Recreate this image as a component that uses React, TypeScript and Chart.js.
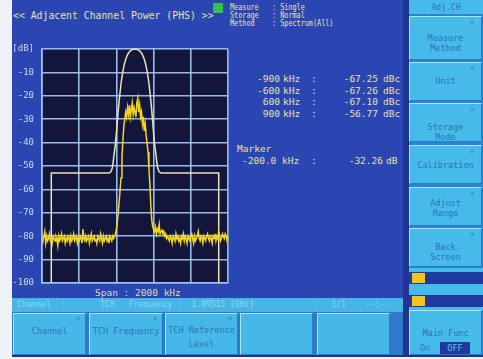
import React, { useEffect, useRef } from "react";
import { Chart, registerables } from "chart.js";
Chart.register(...registerables);

// ---------- data ----------
const FREQ_START_KHZ = -1000;
const FREQ_STEP_KHZ = 10;
// measured spectrum (dB), one value per 10 kHz from -1000 kHz to +1000 kHz
const SPECTRUM_DB = [
  -81, -82, -80, -78, -83, -80, -82, -81, -79, -82, -81, -83, -80, -81, -82, -80, -81, -84, -80, -82,
  -81, -79, -82, -81, -80, -83, -81, -82, -80, -81, -83, -80, -82, -81, -79, -82, -81, -80, -83, -81,
  -82, -80, -81, -83, -77, -81, -82, -80, -82, -81, -80, -83, -81, -79, -82, -81, -80, -82, -81, -83,
  -80, -81, -82, -79, -81, -83, -80, -82, -81, -80, -82, -81, -83, -80, -81, -82, -80, -81, -80,
  -79, -77, -74, -70, -65, -60, -55, -46, -39, -33,
  -30, -27, -29, -25, -28, -24, -29, -26, -23, -28,
  -25, -27, -29, -23, -21, -27, -24, -29, -27, -32,
  -29, -35, -32, -37, -40, -44, -51, -58, -67, -73,
  -76, -77,
  -78, -76, -79, -77, -78, -75, -79, -78, -77, -79, -78, -80, -79, -81, -80,
  -81, -82, -80, -81, -83, -80, -81, -82, -79, -81, -80, -82, -81, -83, -80, -81, -79, -82, -80, -81,
  -83, -80, -81, -82, -80, -79, -81, -83, -80, -82, -81, -80, -78, -81, -82, -80, -81, -83, -80, -81,
  -82, -80, -79, -81, -82, -80, -81, -83, -80, -81, -79, -82, -80, -81, -78, -80, -82, -81, -79, -80,
  -81, -79, -80, -82, -80,
];

// channel filter mask
const MASK_FREQ_KHZ = [
  -900, -900, -280, -260, -245, -235, -225, -212, -200, -188, -175, -162, -148, -132, -115, -95, -75, -50, -25,
  0,
  25, 50, 75, 95, 115, 132, 148, 162, 175, 188, 200, 212, 225, 235, 245, 260, 280, 900, 900,
];
const MASK_DB = [
  -100, -53, -53, -52.5, -51, -48.5, -45, -41, -36, -30, -24, -19, -14, -10, -6.5, -3.8, -2, -0.8, -0.2,
  0,
  -0.2, -0.8, -2, -3.8, -6.5, -10, -14, -19, -24, -30, -36, -41, -45, -48.5, -51, -52.5, -53, -53, -100,
];

const X_MIN = -1000;
const X_MAX = 1000;
const X_STEP = 400;
const Y_MIN = -100;
const Y_MAX = 0;
const Y_STEP = 10;
const Y_TOP_LABEL = "[dB]";

const ACP_OFFSETS = ["-900", "-600", "600", "900"];
const ACP_VALUES = ["-67.25", "-67.26", "-67.10", "-56.77"];
const MARKER_FREQ = "-200.0";
const MARKER_VALUE = "-32.26";

const SIDE_BUTTONS = [
  { lines: ["Measure", "Method"], top: 16, h: 44, ys: [38, 48] },
  { lines: ["Unit"], top: 62, h: 39, ys: [81] },
  { lines: ["Storage", "Mode"], top: 103, h: 39, ys: [127, 137] },
  { lines: ["Calibration"], top: 145, h: 39, ys: [165] },
  { lines: ["Adjust", "Range"], top: 187, h: 39, ys: [203, 213] },
  { lines: ["Back", "Screen"], top: 228, h: 39, ys: [247, 257] },
];
const FKEYS = [
  { x: 13, w: 73, lines: ["Channel"], ys: [331], mark: true },
  { x: 89, w: 74, lines: ["TCH Frequency"], ys: [331], mark: true },
  { x: 165, w: 73, lines: ["TCH Reference", "Level"], ys: [330, 344], mark: true },
  { x: 240, w: 73, lines: [], ys: [], mark: false },
  { x: 317, w: 73, lines: [], ys: [], mark: false },
];

// ---------- helpers ----------
const MONO = "'DejaVu Sans Mono', 'Liberation Mono', monospace";
const CREAM = "#e9e2a6";
const KEYTXT = "#2b74b4";

type TP = {
  x: number;
  y: number;
  s?: number;
  c?: string;
  sx?: number;
  w?: number;
  align?: "left" | "right" | "center";
  children?: React.ReactNode;
};
const Txt = ({ x, y, s = 9.5, c = CREAM, sx = 1, w, align = "left", children }: TP) => (
  <div
    style={{
      position: "absolute",
      left: x,
      top: y - (s + 2) / 2,
      width: w,
      textAlign: align,
      fontFamily: MONO,
      fontSize: s,
      lineHeight: `${s + 2}px`,
      color: c,
      whiteSpace: "pre",
      transform: sx !== 1 ? `scaleX(${sx})` : undefined,
      transformOrigin: align === "right" ? "right center" : align === "center" ? "center center" : "left center",
    }}
  >
    {children}
  </div>
);

const Box = ({ x, y, w, h, bg, border }: { x: number; y: number; w: number; h: number; bg: string; border?: boolean }) => (
  <div
    style={{
      position: "absolute",
      left: x,
      top: y,
      width: w,
      height: h,
      background: bg,
      boxSizing: "border-box",
      borderTop: border ? "1px solid #a9e8ff" : undefined,
      borderLeft: border ? "1px solid #a9e8ff" : undefined,
      borderBottom: border ? "1px solid #2a7cc2" : undefined,
      borderRight: border ? "1px solid #2a7cc2" : undefined,
    }}
  />
);

const plotBg = {
  id: "plotBg",
  beforeDraw(chart: any) {
    const { ctx, chartArea } = chart;
    if (!chartArea) return;
    ctx.save();
    ctx.fillStyle = "#13163a";
    ctx.fillRect(chartArea.left, chartArea.top, chartArea.right - chartArea.left, chartArea.bottom - chartArea.top);
    ctx.restore();
  },
};

export default function App() {
  const ref = useRef<HTMLCanvasElement | null>(null);

  useEffect(() => {
    if (!ref.current) return;
    const spectrum = SPECTRUM_DB.map((v, i) => ({ x: FREQ_START_KHZ + i * FREQ_STEP_KHZ, y: v }));
    const mask = MASK_FREQ_KHZ.map((f, i) => ({ x: f, y: MASK_DB[i] }));
    const grid = "rgba(160,196,242,0.95)";
    const chart = new Chart(ref.current, {
      type: "line",
      data: {
        datasets: [
          {
            data: spectrum,
            borderColor: "#f4d622",
            borderWidth: 1.5,
            pointRadius: 0,
            tension: 0,
            clip: 3,
          },
          {
            data: mask,
            borderColor: "#e8e4bc",
            borderWidth: 1.5,
            pointRadius: 0,
            tension: 0,
            clip: 3,
          },
        ],
      },
      options: {
        animation: false,
        responsive: false,
        devicePixelRatio: 1,
        events: [],
        layout: { padding: { left: 12, top: 49, right: 255, bottom: 76 } },
        plugins: { legend: { display: false }, tooltip: { enabled: false }, title: { display: false } },
        scales: {
          x: {
            type: "linear",
            min: X_MIN,
            max: X_MAX,
            ticks: { display: false, stepSize: X_STEP },
            grid: { color: grid, lineWidth: 1.6, drawTicks: false },
            border: { color: grid, width: 1.6 },
            afterFit: (s: any) => {
              s.height = 0;
            },
          },
          y: {
            type: "linear",
            min: Y_MIN,
            max: Y_MAX,
            ticks: {
              stepSize: Y_STEP,
              padding: 8,
              color: "#cfd8f2",
              font: { family: MONO, size: 9 },
              callback: (v: any) => (Number(v) === Y_MAX ? Y_TOP_LABEL : String(v)),
            },
            grid: { color: grid, lineWidth: 1.6, drawTicks: false },
            border: { color: grid, width: 1.6 },
            afterFit: (s: any) => {
              s.width = 30;
            },
          },
        },
      },
      plugins: [plotBg],
    });
    return () => chart.destroy();
  }, []);

  return (
    <div style={{ position: "fixed", left: 0, top: 0, width: 483, height: 359, background: "#eef2f6", overflow: "hidden" }}>
      {/* main screen */}
      <Box x={12} y={0} w={471} h={357} bg="#2a46b2" />
      {/* right column */}
      <Box x={403} y={0} w={80} h={357} bg="#1f3591" />
      <Box x={409} y={0} w={74} h={357} bg="#2f82cc" />
      <Box x={409} y={0} w={74} h={14} bg="#46bbea" />
      <Txt x={409} y={8} w={74} align="center" s={8} c={KEYTXT}>Adj.CH</Txt>
      {SIDE_BUTTONS.map((b, i) => (
        <React.Fragment key={"sb" + i}>
          <Box x={409} y={b.top} w={73} h={b.h} bg="#46bbea" border />
          <Txt x={470} y={b.top + 8} s={7} c={KEYTXT}>*</Txt>
          {b.lines.map((l, j) => (
            <Txt key={j} x={409} y={b.ys[j]} w={73} align="center" s={8.5} c={KEYTXT}>
              {l}
            </Txt>
          ))}
        </React.Fragment>
      ))}
      <Box x={409} y={268} w={74} h={42} bg="#46bbea" />
      <Box x={409} y={272} w={74} h={12} bg="#1f3a9c" />
      <Box x={412} y={273} w={13} h={10} bg="#f2c41e" />
      <Box x={409} y={295} w={74} h={12} bg="#1f3a9c" />
      <Box x={412} y={296} w={13} h={10} bg="#f2c41e" />
      <Box x={409} y={310} w={73} h={45} bg="#46bbea" border />
      <Txt x={409} y={333} w={73} align="center" s={8.5} c={KEYTXT}>Main Func</Txt>
      <Txt x={420} y={348} s={8.5} c={KEYTXT}>On</Txt>
      <Box x={440} y={342} w={30} h={12} bg="#1f3a9c" />
      <Txt x={440} y={348} w={30} align="center" s={8.5} c="#5cc6f0">OFF</Txt>

      {/* status bar */}
      <Box x={12} y={298} w={391} h={14} bg="#47b6e6" />
      <Txt x={17} y={305} s={8} c="#8ed6f6">Channel  :</Txt>
      <Txt x={100} y={305} s={8} c="#8ed6f6">TCH   Frequency :  1.89515 [GHz]</Txt>
      <Txt x={312} y={305} s={8} c="#8ed6f6">:   1/1    --:--</Txt>

      {/* function keys */}
      <Box x={12} y={312} w={391} h={45} bg="#3079c8" />
      {FKEYS.map((k, i) => (
        <React.Fragment key={"fk" + i}>
          <Box x={k.x} y={313} w={k.w} h={42} bg="#46b8e8" border />
          {k.mark && (
            <Txt x={k.x + k.w - 10} y={320} s={7} c={KEYTXT}>*</Txt>
          )}
          {k.lines.map((l, j) => (
            <Txt key={j} x={k.x} y={k.ys[j]} w={k.w} align="center" s={8.5} c={KEYTXT}>
              {l}
            </Txt>
          ))}
        </React.Fragment>
      ))}
      <Box x={12} y={355} w={471} h={2} bg="#1c3490" />

      {/* header */}
      <Txt x={13} y={16} s={9.8}>{"<< Adjacent Channel Power (PHS) >>"}</Txt>
      <Box x={213} y={3} w={10} h={10} bg="#35c24c" />
      <Txt x={230} y={7} s={8.5} sx={0.8}>Measure</Txt>
      <Txt x={230} y={15} s={8.5} sx={0.8}>Storage</Txt>
      <Txt x={230} y={23} s={8.5} sx={0.8}>Method</Txt>
      <Txt x={272} y={7} s={8.5} sx={0.8}>: Single</Txt>
      <Txt x={272} y={15} s={8.5} sx={0.8}>: Normal</Txt>
      <Txt x={272} y={23} s={8.5} sx={0.8}>: Spectrum(All)</Txt>

      {/* readouts */}
      {ACP_OFFSETS.map((o, i) => {
        const y = [79, 90.5, 102, 113.5][i];
        return (
          <React.Fragment key={"acp" + i}>
            <Txt x={236} y={y} w={44} align="right">{o}</Txt>
            <Txt x={283} y={y}>kHz</Txt>
            <Txt x={311} y={y}>:</Txt>
            <Txt x={332} y={y} w={46} align="right">{ACP_VALUES[i]}</Txt>
            <Txt x={383} y={y}>dBc</Txt>
          </React.Fragment>
        );
      })}
      <Txt x={237} y={149}>Marker</Txt>
      <Txt x={242} y={161}>{MARKER_FREQ + " kHz"}</Txt>
      <Txt x={311} y={161}>:</Txt>
      <Txt x={337} y={161} w={46} align="right">{MARKER_VALUE}</Txt>
      <Txt x={386} y={161}>dB</Txt>

      <Txt x={95} y={293} s={9.5} c="#dedcb4">Span : 2000 kHz</Txt>

      <canvas
        ref={ref}
        width={483}
        height={359}
        style={{ position: "absolute", left: 0, top: 0, width: 483, height: 359, pointerEvents: "none" }}
      />
    </div>
  );
}
